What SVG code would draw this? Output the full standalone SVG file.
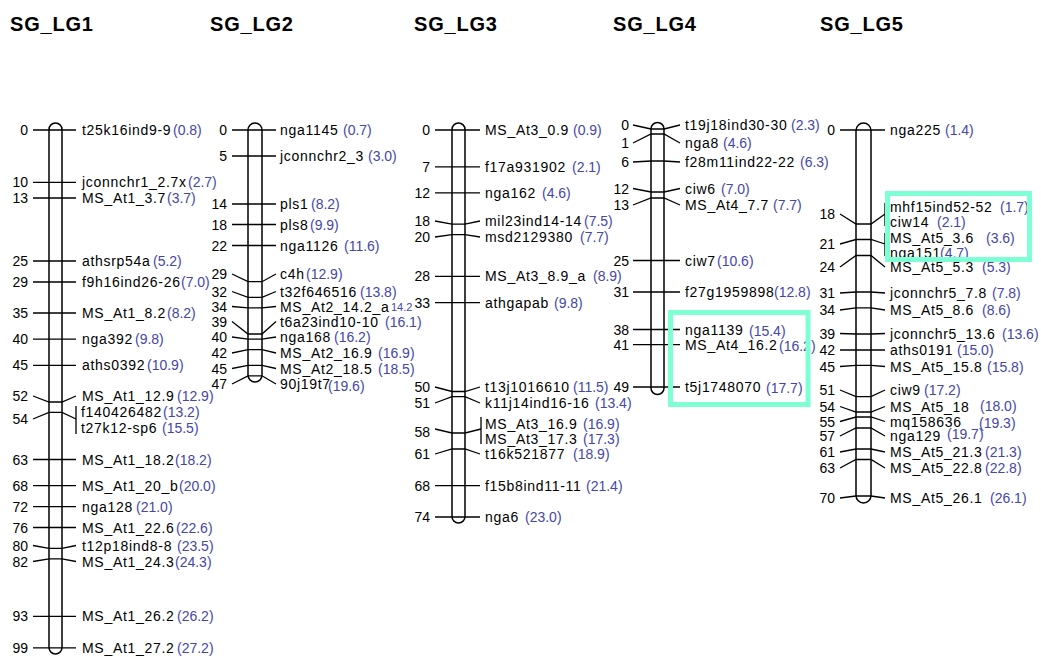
<svg xmlns="http://www.w3.org/2000/svg" width="1041" height="657" viewBox="0 0 1041 657">
<style>
text{font-family:"Liberation Sans",Arial,sans-serif;font-size:14px;fill:#000}
.ttl{font-size:20px;font-weight:bold;letter-spacing:0.8px}
.n{text-anchor:end}
.t{letter-spacing:0.7px}
.b{fill:#4646a8}
.s{font-size:11px}
.chr{fill:#fff;stroke:#000;stroke-width:1.5}
#connectors path{fill:none;stroke:#000;stroke-width:1.3}
.box{fill:none;stroke:#7fffd4;stroke-width:5}
</style>
<rect width="1041" height="657" fill="#fff"/>

<g id="SG_LG1">
<text class="ttl" x="10" y="31">SG_LG1</text>
<rect class="chr" x="49" y="123" width="13" height="531" rx="6.5"/>
<g id="lg1-0"><text class="n" x="28" y="135">0</text><text class="t" x="82" y="135">t25k16ind9-9</text><text class="b" x="173" y="135">(0.8)</text></g>
<g id="lg1-10"><text class="n" x="28" y="187.3">10</text><text class="t" x="82" y="187.3">jconnchr1_2.7x</text><text class="b" x="188" y="187.3">(2.7)</text></g>
<g id="lg1-13"><text class="n" x="28" y="203">13</text><text class="t" x="82" y="203">MS_At1_3.7</text><text class="b" x="167" y="203">(3.7)</text></g>
<g id="lg1-25"><text class="n" x="28" y="266">25</text><text class="t" x="82" y="266">athsrp54a</text><text class="b" x="153" y="266">(5.2)</text></g>
<g id="lg1-29"><text class="n" x="28" y="287">29</text><text class="t" x="82" y="287">f9h16ind26-26</text><text class="b" x="181" y="287">(7.0)</text></g>
<g id="lg1-35"><text class="n" x="28" y="318">35</text><text class="t" x="82" y="318">MS_At1_8.2</text><text class="b" x="167" y="318">(8.2)</text></g>
<g id="lg1-40"><text class="n" x="28" y="344.2">40</text><text class="t" x="82" y="344.2">nga392</text><text class="b" x="135" y="344.2">(9.8)</text></g>
<g id="lg1-45"><text class="n" x="28" y="370.4">45</text><text class="t" x="82" y="370.4">aths0392</text><text class="b" x="147" y="370.4">(10.9)</text></g>
<g id="lg1-52"><text class="n" x="28" y="401">52</text><text class="t" x="82" y="401">MS_At1_12.9</text><text class="b" x="177" y="401">(12.9)</text></g>
<g id="lg1-54"><text class="n" x="28" y="424">54</text><text class="t" x="81" y="417">f140426482</text><text class="b" x="163" y="417">(13.2)</text><text class="t" x="81" y="433">t27k12-sp6</text><text class="b" x="162" y="433">(15.5)</text></g>
<g id="lg1-63"><text class="n" x="28" y="464.5">63</text><text class="t" x="82" y="464.5">MS_At1_18.2</text><text class="b" x="175" y="464.5">(18.2)</text></g>
<g id="lg1-68"><text class="n" x="28" y="490.6">68</text><text class="t" x="82" y="490.6">MS_At1_20_b</text><text class="b" x="179" y="490.6">(20.0)</text></g>
<g id="lg1-72"><text class="n" x="28" y="511.6">72</text><text class="t" x="82" y="511.6">nga128</text><text class="b" x="136" y="511.6">(21.0)</text></g>
<g id="lg1-76"><text class="n" x="28" y="532.5">76</text><text class="t" x="82" y="532.5">MS_At1_22.6</text><text class="b" x="176" y="532.5">(22.6)</text></g>
<g id="lg1-80"><text class="n" x="28" y="550.5">80</text><text class="t" x="82" y="550.5">t12p18ind8-8</text><text class="b" x="177" y="550.5">(23.5)</text></g>
<g id="lg1-82"><text class="n" x="28" y="566.5">82</text><text class="t" x="82" y="566.5">MS_At1_24.3</text><text class="b" x="175" y="566.5">(24.3)</text></g>
<g id="lg1-93"><text class="n" x="28" y="621.4">93</text><text class="t" x="82" y="621.4">MS_At1_26.2</text><text class="b" x="177" y="621.4">(26.2)</text></g>
<g id="lg1-99"><text class="n" x="28" y="652.8">99</text><text class="t" x="82" y="652.8">MS_At1_27.2</text><text class="b" x="177" y="652.8">(27.2)</text></g>
</g>

<g id="SG_LG2">
<text class="ttl" x="210" y="31">SG_LG2</text>
<rect class="chr" x="248" y="123" width="14" height="259" rx="7"/>
<g id="lg2-0"><text class="n" x="227" y="135">0</text><text class="t" x="280" y="135">nga1145</text><text class="b" x="343" y="135">(0.7)</text></g>
<g id="lg2-5"><text class="n" x="227" y="161">5</text><text class="t" x="280" y="161">jconnchr2_3</text><text class="b" x="368" y="161">(3.0)</text></g>
<g id="lg2-14"><text class="n" x="227" y="209">14</text><text class="t" x="280" y="209">pls1</text><text class="b" x="311" y="209">(8.2)</text></g>
<g id="lg2-18"><text class="n" x="227" y="229.5">18</text><text class="t" x="280" y="229.5">pls8</text><text class="b" x="310" y="229.5">(9.9)</text></g>
<g id="lg2-22"><text class="n" x="227" y="250.5">22</text><text class="t" x="280" y="250.5">nga1126</text><text class="b" x="344" y="250.5">(11.6)</text></g>
<g id="lg2-29"><text class="n" x="227" y="279">29</text><text class="t" x="280" y="279">c4h</text><text class="b" x="306" y="279">(12.9)</text></g>
<g id="lg2-32"><text class="n" x="227" y="296.5">32</text><text class="t" x="280" y="296.5">t32f646516</text><text class="b" x="360" y="296.5">(13.8)</text></g>
<g id="lg2-34"><text class="n" x="227" y="311.5">34</text><text class="t" x="280" y="311.5">MS_At2_14.2_a</text><text class="b s" x="391" y="310.5">14.2</text></g>
<g id="lg2-39"><text class="n" x="227" y="326.5">39</text><text class="t" x="280" y="326.5">t6a23ind10-10</text><text class="b" x="385" y="326.5">(16.1)</text></g>
<g id="lg2-40"><text class="n" x="227" y="342">40</text><text class="t" x="280" y="342">nga168</text><text class="b" x="334" y="342">(16.2)</text></g>
<g id="lg2-42"><text class="n" x="227" y="358">42</text><text class="t" x="280" y="358">MS_At2_16.9</text><text class="b" x="378" y="358">(16.9)</text></g>
<g id="lg2-45"><text class="n" x="227" y="373.5">45</text><text class="t" x="280" y="373.5">MS_At2_18.5</text><text class="b" x="378" y="373.5">(18.5)</text></g>
<g id="lg2-47"><text class="n" x="227" y="389">47</text><text class="t" x="280" y="389">90j19t7</text><text class="b" x="328" y="391">(19.6)</text></g>
</g>

<g id="SG_LG3">
<text class="ttl" x="414" y="31">SG_LG3</text>
<rect class="chr" x="452" y="123" width="13" height="400" rx="6.5"/>
<g id="lg3-0"><text class="n" x="430" y="135">0</text><text class="t" x="485" y="135">MS_At3_0.9</text><text class="b" x="573" y="135">(0.9)</text></g>
<g id="lg3-7"><text class="n" x="430" y="171.8">7</text><text class="t" x="485" y="171.8">f17a931902</text><text class="b" x="572" y="171.8">(2.1)</text></g>
<g id="lg3-12"><text class="n" x="430" y="198">12</text><text class="t" x="485" y="198">nga162</text><text class="b" x="542" y="198">(4.6)</text></g>
<g id="lg3-18"><text class="n" x="430" y="226">18</text><text class="t" x="485" y="226">mil23ind14-14</text><text class="b" x="584" y="226">(7.5)</text></g>
<g id="lg3-20"><text class="n" x="430" y="242">20</text><text class="t" x="485" y="242">msd2129380</text><text class="b" x="580" y="242">(7.7)</text></g>
<g id="lg3-28"><text class="n" x="430" y="281.4">28</text><text class="t" x="485" y="281.4">MS_At3_8.9_a</text><text class="b" x="593" y="281.4">(8.9)</text></g>
<g id="lg3-33"><text class="n" x="430" y="307.6">33</text><text class="t" x="485" y="307.6">athgapab</text><text class="b" x="554" y="307.6">(9.8)</text></g>
<g id="lg3-50"><text class="n" x="430" y="392">50</text><text class="t" x="485" y="392">t13j1016610</text><text class="b" x="573" y="392">(11.5)</text></g>
<g id="lg3-51"><text class="n" x="430" y="408">51</text><text class="t" x="485" y="408">k11j14ind16-16</text><text class="b" x="595" y="408">(13.4)</text></g>
<g id="lg3-58"><text class="n" x="430" y="437">58</text><text class="t" x="485" y="429">MS_At3_16.9</text><text class="b" x="583" y="429">(16.9)</text><text class="t" x="485" y="443.5">MS_At3_17.3</text><text class="b" x="583" y="443.5">(17.3)</text></g>
<g id="lg3-61"><text class="n" x="430" y="459">61</text><text class="t" x="485" y="459">t16k521877</text><text class="b" x="573" y="459">(18.9)</text></g>
<g id="lg3-68"><text class="n" x="430" y="490.6">68</text><text class="t" x="485" y="490.6">f15b8ind11-11</text><text class="b" x="586" y="490.6">(21.4)</text></g>
<g id="lg3-74"><text class="n" x="430" y="522">74</text><text class="t" x="485" y="522">nga6</text><text class="b" x="525" y="522">(23.0)</text></g>
</g>

<g id="SG_LG4">
<text class="ttl" x="613" y="31">SG_LG4</text>
<rect class="chr" x="651" y="122.5" width="13" height="272" rx="6.5"/>
<g id="lg4-0"><text class="n" x="629" y="130">0</text><text class="t" x="685" y="130">t19j18ind30-30</text><text class="b" x="791" y="130">(2.3)</text></g>
<g id="lg4-1"><text class="n" x="629" y="148">1</text><text class="t" x="685" y="148">nga8</text><text class="b" x="723" y="148">(4.6)</text></g>
<g id="lg4-6"><text class="n" x="629" y="167">6</text><text class="t" x="685" y="167">f28m11ind22-22</text><text class="b" x="800" y="167">(6.3)</text></g>
<g id="lg4-12"><text class="n" x="629" y="193.5">12</text><text class="t" x="685" y="193.5">ciw6</text><text class="b" x="721" y="193.5">(7.0)</text></g>
<g id="lg4-13"><text class="n" x="629" y="210">13</text><text class="t" x="685" y="210">MS_At4_7.7</text><text class="b" x="773" y="210">(7.7)</text></g>
<g id="lg4-25"><text class="n" x="629" y="265.5">25</text><text class="t" x="685" y="265.5">ciw7</text><text class="b" x="717" y="265.5">(10.6)</text></g>
<g id="lg4-31"><text class="n" x="629" y="297">31</text><text class="t" x="685" y="297">f27g1959898</text><text class="b" x="774" y="297">(12.8)</text></g>
<g id="lg4-38"><text class="n" x="629" y="334.5">38</text><text class="t" x="685" y="334.5">nga1139</text><text class="b" x="749" y="335.5">(15.4)</text></g>
<g id="lg4-41"><text class="n" x="629" y="349.7">41</text><text class="t" x="685" y="349.7">MS_At4_16.2</text><text class="b" x="779" y="351">(16.2)</text></g>
<g id="lg4-49"><text class="n" x="629" y="392">49</text><text class="t" x="685" y="392">t5j1748070</text><text class="b" x="766" y="393">(17.7)</text></g>
</g>

<g id="SG_LG5">
<text class="ttl" x="820" y="31">SG_LG5</text>
<rect class="chr" x="856" y="123" width="15" height="380" rx="7.5"/>
<g id="lg5-0"><text class="n" x="835" y="135">0</text><text class="t" x="890" y="135">nga225</text><text class="b" x="945" y="135">(1.4)</text></g>
<g id="lg5-18"><text class="n" x="835" y="219">18</text><text class="t" x="890" y="211.7">mhf15ind52-52</text><text class="b" x="1000" y="211.7">(1.7)</text><text class="t" x="890" y="226.7">ciw14</text><text class="b" x="937" y="226.7">(2.1)</text></g>
<g id="lg5-21"><text class="n" x="835" y="249">21</text><text class="t" x="890" y="242.7">MS_At5_3.6</text><text class="b" x="986" y="242.7">(3.6)</text><text class="t" x="890" y="257.5">nga151</text><text class="b" x="940" y="257.5">(4.7)</text></g>
<g id="lg5-24"><text class="n" x="835" y="272">24</text><text class="t" x="890" y="272">MS_At5_5.3</text><text class="b" x="982" y="272">(5.3)</text></g>
<g id="lg5-31"><text class="n" x="835" y="298">31</text><text class="t" x="890" y="298">jconnchr5_7.8</text><text class="b" x="992" y="298">(7.8)</text></g>
<g id="lg5-34"><text class="n" x="835" y="315">34</text><text class="t" x="890" y="315">MS_At5_8.6</text><text class="b" x="982" y="315">(8.6)</text></g>
<g id="lg5-39"><text class="n" x="835" y="338.5">39</text><text class="t" x="890" y="338.5">jconnchr5_13.6</text><text class="b" x="1002" y="338.5">(13.6)</text></g>
<g id="lg5-42"><text class="n" x="835" y="355">42</text><text class="t" x="890" y="355">aths0191</text><text class="b" x="957" y="355">(15.0)</text></g>
<g id="lg5-45"><text class="n" x="835" y="371.5">45</text><text class="t" x="890" y="371.5">MS_At5_15.8</text><text class="b" x="987" y="371.5">(15.8)</text></g>
<g id="lg5-51"><text class="n" x="835" y="395">51</text><text class="t" x="890" y="395">ciw9</text><text class="b" x="924" y="395">(17.2)</text></g>
<g id="lg5-54"><text class="n" x="835" y="411.5">54</text><text class="t" x="890" y="411.5">MS_At5_18</text><text class="b" x="980" y="411">(18.0)</text></g>
<g id="lg5-55"><text class="n" x="835" y="426.5">55</text><text class="t" x="890" y="426.5">mq158636</text><text class="b" x="979" y="428">(19.3)</text></g>
<g id="lg5-57"><text class="n" x="835" y="441">57</text><text class="t" x="890" y="441">nga129</text><text class="b" x="947" y="439">(19.7)</text></g>
<g id="lg5-61"><text class="n" x="835" y="457">61</text><text class="t" x="890" y="457">MS_At5_21.3</text><text class="b" x="985" y="457">(21.3)</text></g>
<g id="lg5-63"><text class="n" x="835" y="473">63</text><text class="t" x="890" y="473">MS_At5_22.8</text><text class="b" x="985" y="473">(22.8)</text></g>
<g id="lg5-70"><text class="n" x="835" y="503">70</text><text class="t" x="890" y="503">MS_At5_26.1</text><text class="b" x="990" y="503">(26.1)</text></g>
</g>

<g id="connectors">
<path d="M33 130H76M33 182.3H76M33 198H76M33 261H76M33 282H76M33 313H76M33 339.2H76M33 365.4H76"/>
<path d="M33 396L49 402H62L76 396"/>
<path d="M33 419L49 412.4H62L76 419M76 406V434"/>
<path d="M33 459.5H76M33 485.6H76M33 506.6H76M33 527.5H76"/>
<path d="M33 545.5L49 548.4H62L76 545.5"/>
<path d="M33 561.5L49 558.9H62L76 561.5"/>
<path d="M33 616.4H76M33 647.8H76"/>

<path d="M232 130H276M232 156H276M232 204H276M232 224.5H276M232 245.5H276"/>
<path d="M232 274L248 281.7H262L276 274"/>
<path d="M232 291.5L248 297.4H262L276 291.5"/>
<path d="M232 306.5L248 307.8H262L276 306.5"/>
<path d="M232 321.5L248 334H262L276 321.5"/>
<path d="M232 337L248 339.2H262L276 337"/>
<path d="M232 353L248 349.7H262L276 353"/>
<path d="M232 368.5L248 365.4H262L276 368.5"/>
<path d="M232 384L248 375.8H262L276 384"/>

<path d="M435 130H480M435 166.8H480M435 192.8H480"/>
<path d="M435 221L452 224.1H465L480 221"/>
<path d="M435 237L452 234.6H465L480 237"/>
<path d="M435 276.4H480M435 302.6H480"/>
<path d="M435 387L452 391.5H465L480 387"/>
<path d="M435 403L452 396.7H465L480 403"/>
<path d="M435 429L452 433H465L481 429M481 417V444"/>
<path d="M435 454L452 449H465L480 454"/>
<path d="M435 485.6H480M435 517H480"/>

<path d="M633 125L651 129H664L680 125"/>
<path d="M633 143L651 134H664L680 143"/>
<path d="M633 162L651 161H664L680 162"/>
<path d="M633 188.5L651 192H664L680 188.5"/>
<path d="M633 205L651 198H664L680 205"/>
<path d="M633 260.5H680M633 292H680M633 329.5H680M633 344.7H680M633 387H680"/>

<path d="M840 130H885"/>
<path d="M840 214L856 224H871L885 214M885 203V226"/>
<path d="M840 244L856 239.5H871L885 244M885 233V256"/>
<path d="M840 267L856 255.5H871L885 267"/>
<path d="M840 293L856 292H871L885 293"/>
<path d="M840 310L856 307.8H871L885 310"/>
<path d="M840 333.5L856 334H871L885 333.5"/>
<path d="M840 350H885"/>
<path d="M840 366.5L856 365.4H871L885 366.5"/>
<path d="M840 390L856 396.7H871L885 390"/>
<path d="M840 406.5L856 412H871L885 406.5"/>
<path d="M840 421.5L856 417H871L885 421.5"/>
<path d="M840 436L856 428H871L885 436"/>
<path d="M840 452L856 449H871L885 452"/>
<path d="M840 468L856 459.5H871L885 468"/>
<path d="M840 498L856 496H871L885 498"/>
</g>

<g id="highlights">
<rect class="box" x="670.5" y="312.5" width="137.5" height="92"/>
<rect class="box" x="887.5" y="193.5" width="142" height="66"/>
</g>
</svg>
